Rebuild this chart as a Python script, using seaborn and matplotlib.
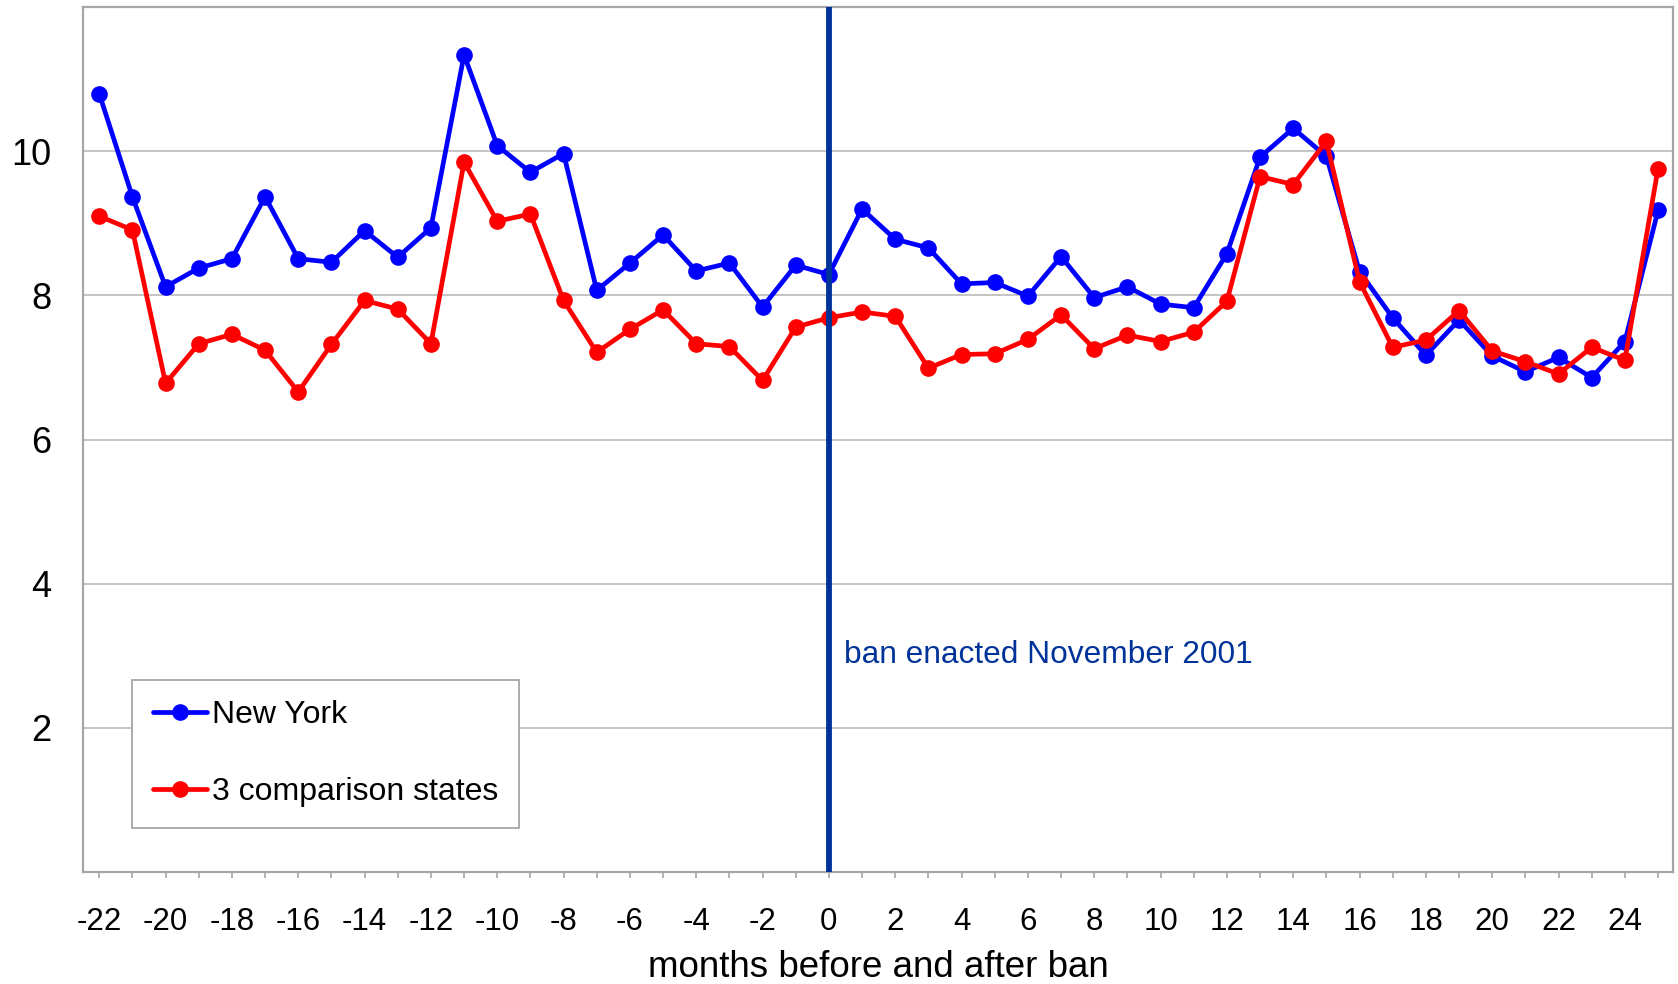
import matplotlib
matplotlib.use("Agg")
import matplotlib.pyplot as plt
import seaborn as sns
import pandas as pd
from matplotlib.ticker import MultipleLocator, FixedLocator

# ---- data ----
months = list(range(-22, 26))
new_york = [10.80, 9.37, 8.12, 8.38, 8.51, 9.37, 8.51, 8.46, 8.90, 8.53, 8.94, 11.34, 10.08, 9.71,
            9.97, 8.07, 8.45, 8.84, 8.34, 8.45, 7.84, 8.42, 8.29, 9.20, 8.78, 8.66, 8.16, 8.18,
            7.99, 8.54, 7.97, 8.12, 7.88, 7.83, 8.58, 9.92, 10.32, 9.93, 8.33, 7.69, 7.17, 7.66,
            7.16, 6.94, 7.14, 6.86, 7.36, 9.18]
comparison = [9.10, 8.91, 6.78, 7.33, 7.46, 7.24, 6.66, 7.32, 7.93, 7.81, 7.33, 9.85, 9.03, 9.13,
              7.93, 7.21, 7.53, 7.80, 7.33, 7.29, 6.82, 7.56, 7.69, 7.77, 7.71, 6.99, 7.18, 7.19,
              7.39, 7.73, 7.26, 7.45, 7.36, 7.49, 7.92, 9.65, 9.54, 10.14, 8.19, 7.28, 7.38, 7.79,
              7.23, 7.08, 6.91, 7.28, 7.10, 9.76]
series_names = ["New York", "3 comparison states"]
series_colors = ["#0000FF", "#FF0000"]
x_tick_labels = list(range(-22, 25, 2))
y_tick_labels = [2, 4, 6, 8, 10]
ban_month = 0
ban_text = "ban enacted November 2001"
x_label = "months before and after ban"

df = pd.DataFrame({
    "month": months * 2,
    "value": new_york + comparison,
    "series": [series_names[0]] * len(months) + [series_names[1]] * len(months),
})

sns.set_style("white")
plt.rcParams["font.family"] = ["Liberation Sans", "DejaVu Sans"]
plt.rcParams["text.color"] = "black"
plt.rcParams["axes.labelcolor"] = "black"
plt.rcParams["xtick.labelcolor"] = "black"
plt.rcParams["ytick.labelcolor"] = "black"

fig = plt.figure(figsize=(16.78, 9.84), dpi=100)
ax = fig.add_axes([83 / 1678, 1 - 871.7 / 984, (1673.3 - 83) / 1678, (871.7 - 7.3) / 984])

sns.lineplot(data=df, x="month", y="value", hue="series", hue_order=series_names,
             palette=series_colors, marker="o", markersize=12, markeredgewidth=0,
             linewidth=3.4, ax=ax, zorder=3)

ax.axvline(ban_month, color="#003399", linewidth=4.2, zorder=5)
ax.text(ban_month + 0.45, 2.90, ban_text, color="#003399", fontsize=22.8,
        ha="left", va="baseline")

ax.set_xlim(-22.49, 25.46)
ax.set_ylim(0, 12)

ax.xaxis.set_major_locator(FixedLocator(x_tick_labels))
ax.set_xticklabels([str(v) for v in x_tick_labels])
ax.xaxis.set_minor_locator(MultipleLocator(1))
ax.set_yticks(y_tick_labels)
ax.set_yticklabels([str(v) for v in y_tick_labels])

ax.tick_params(axis="x", which="both", direction="out", length=4.5, width=1.2,
               color="#A6A6A6", labelcolor="black", bottom=True, labelsize=22.5, pad=21)
ax.tick_params(axis="y", which="both", length=0, labelsize=26, pad=23, labelcolor="black")

ax.grid(axis="y", color="#BFBFBF", linewidth=1.3)
ax.grid(axis="x", visible=False)
ax.set_axisbelow(True)
for s in ax.spines.values():
    s.set_visible(True)
    s.set_color("#A6A6A6")
    s.set_linewidth(1.6)

ax.set_xlabel(x_label, fontsize=26.5, labelpad=9, color="black")
ax.set_ylabel("")

leg = ax.legend(loc="lower left", bbox_to_anchor=((132 - 83) / 1590.3, (871.7 - 828) / 864.4),
                fontsize=23, frameon=True, fancybox=False, framealpha=1,
                edgecolor="#A6A6A6", handlelength=1.7, handletextpad=0.15,
                labelspacing=1.47, borderpad=0.65, borderaxespad=0)
leg.get_frame().set_linewidth(1.3)
for t in leg.get_texts():
    t.set_color("black")

fig.savefig("out.png", dpi=100)
